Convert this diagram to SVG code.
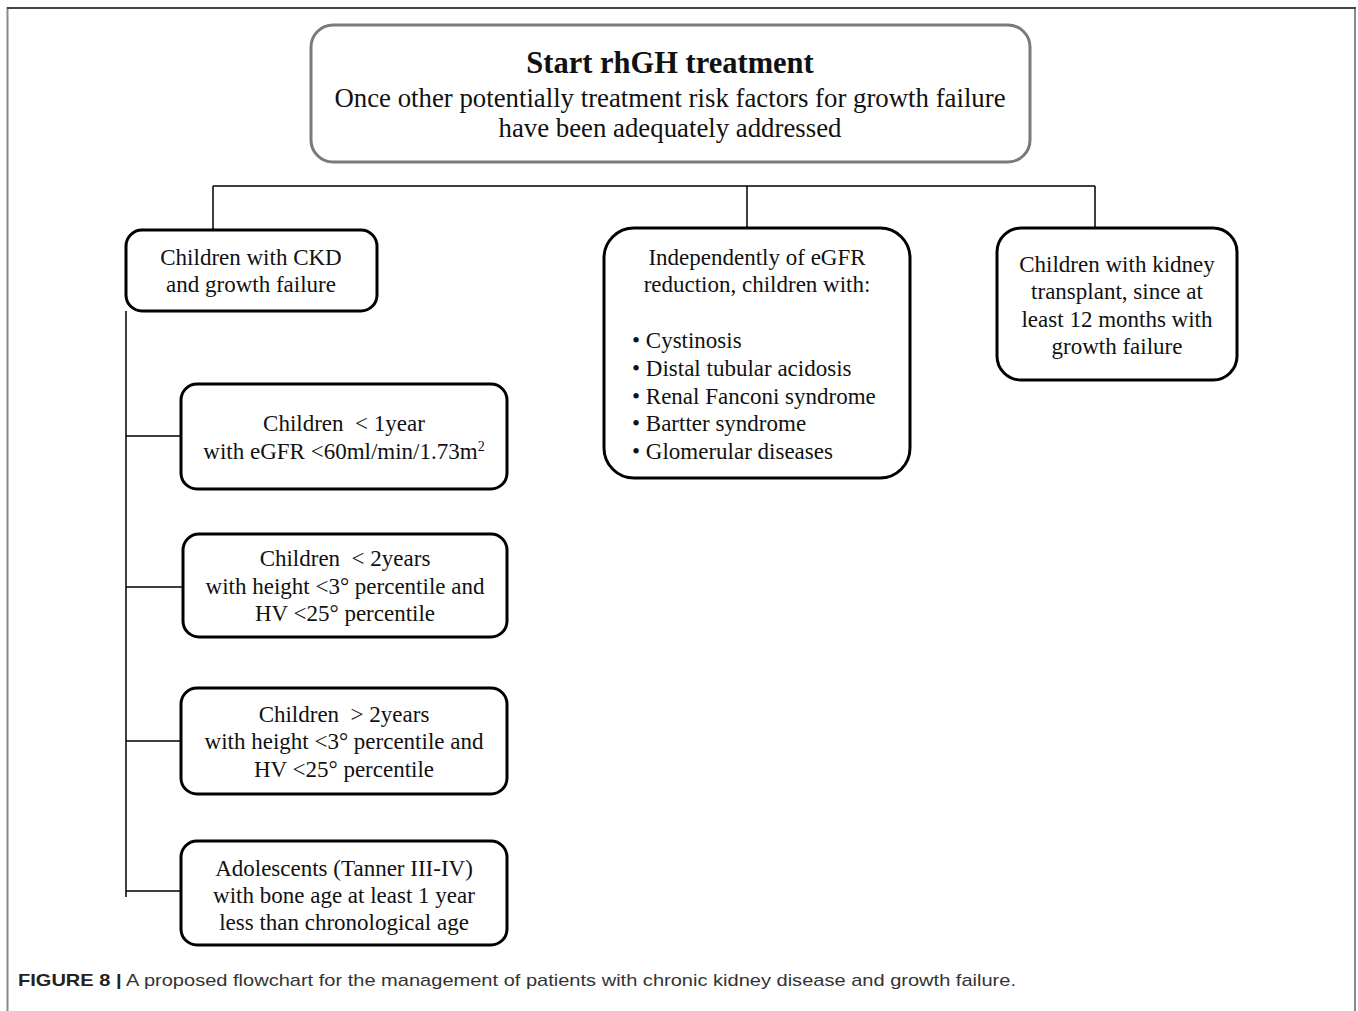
<svg xmlns="http://www.w3.org/2000/svg" width="1358" height="1011" viewBox="0 0 1358 1011">
<style>
.box{fill:#fff;stroke:#000;stroke-width:3}
.top{fill:#fff;stroke:#7a7a7a;stroke-width:3}
.t{font-family:"Liberation Serif","Times New Roman",serif;font-size:23px;fill:#111;text-anchor:middle}
.tl{font-family:"Liberation Serif","Times New Roman",serif;font-size:23px;fill:#111}
.conn{stroke:#000;stroke-width:1.5;fill:none}
.cap{font-family:"Liberation Sans",Arial,sans-serif;font-size:17px;fill:#333}
</style>
<rect width="1358" height="1011" fill="#fff"/>
<g id="frame">
<path d="M7.5 1011 V8 H1355 V1011" fill="none" stroke="#8a8a8a" stroke-width="2"/>
<line x1="7" y1="8" x2="1356" y2="8" stroke="#444" stroke-width="2"/>
</g>
<g id="connectors">
<path class="conn" d="M213 186 H1095 M213 186 V230 M747 186 V228 M1095 186 V228"/>
<path class="conn" d="M126 311 V897 M126 436 H181 M126 587 H183 M126 741 H181 M126 891 H181"/>
</g>
<g id="start">
<rect class="top" x="311" y="25" width="719" height="137" rx="22"/>
<text class="t" x="670" y="73" font-weight="bold" style="font-size:30.5px">Start rhGH treatment</text>
<text class="t" x="670" y="107" style="font-size:26.8px">Once other potentially treatment risk factors for growth failure</text>
<text class="t" x="670" y="137" style="font-size:26.8px">have been adequately addressed</text>
</g>
<g id="ckd">
<rect class="box" x="126" y="230" width="251" height="81" rx="16"/>
<text class="t" x="251" y="265">Children with CKD</text>
<text class="t" x="251" y="292">and growth failure</text>
</g>
<g id="independent">
<rect class="box" x="604" y="228" width="306" height="250" rx="30"/>
<text class="t" x="757" y="265">Independently of eGFR</text>
<text class="t" x="757" y="292">reduction, children with:</text>
<text class="tl" x="632" y="348">• Cystinosis</text>
<text class="tl" x="632" y="376">• Distal tubular acidosis</text>
<text class="tl" x="632" y="404">• Renal Fanconi syndrome</text>
<text class="tl" x="632" y="431">• Bartter syndrome</text>
<text class="tl" x="632" y="459">• Glomerular diseases</text>
</g>
<g id="transplant">
<rect class="box" x="997" y="228" width="240" height="152" rx="24"/>
<text class="t" x="1117" y="272">Children with kidney</text>
<text class="t" x="1117" y="299">transplant, since at</text>
<text class="t" x="1117" y="327">least 12 months with</text>
<text class="t" x="1117" y="354">growth failure</text>
</g>
<g id="lt1year">
<rect class="box" x="181" y="384" width="326" height="105" rx="16"/>
<text class="t" x="344" y="431" xml:space="preserve">Children  &lt; 1year</text>
<text class="t" x="344" y="459">with eGFR &lt;60ml/min/1.73m<tspan dy="-8" style="font-size:14px">2</tspan></text>
</g>
<g id="lt2years">
<rect class="box" x="183" y="534" width="324" height="103" rx="16"/>
<text class="t" x="345" y="566" xml:space="preserve">Children  &lt; 2years</text>
<text class="t" x="345" y="594">with height &lt;3° percentile and</text>
<text class="t" x="345" y="621">HV &lt;25° percentile</text>
</g>
<g id="gt2years">
<rect class="box" x="181" y="688" width="326" height="106" rx="16"/>
<text class="t" x="344" y="722" xml:space="preserve">Children  &gt; 2years</text>
<text class="t" x="344" y="749">with height &lt;3° percentile and</text>
<text class="t" x="344" y="777">HV &lt;25° percentile</text>
</g>
<g id="adolescents">
<rect class="box" x="181" y="841" width="326" height="104" rx="16"/>
<text class="t" x="344" y="876">Adolescents (Tanner III-IV)</text>
<text class="t" x="344" y="903">with bone age at least 1 year</text>
<text class="t" x="344" y="930">less than chronological age</text>
</g>
<g id="caption">
<text class="cap" x="18" y="986" textLength="998" lengthAdjust="spacingAndGlyphs"><tspan font-weight="bold" fill="#222">FIGURE 8 |</tspan> A proposed flowchart for the management of patients with chronic kidney disease and growth failure.</text>
</g>
</svg>
